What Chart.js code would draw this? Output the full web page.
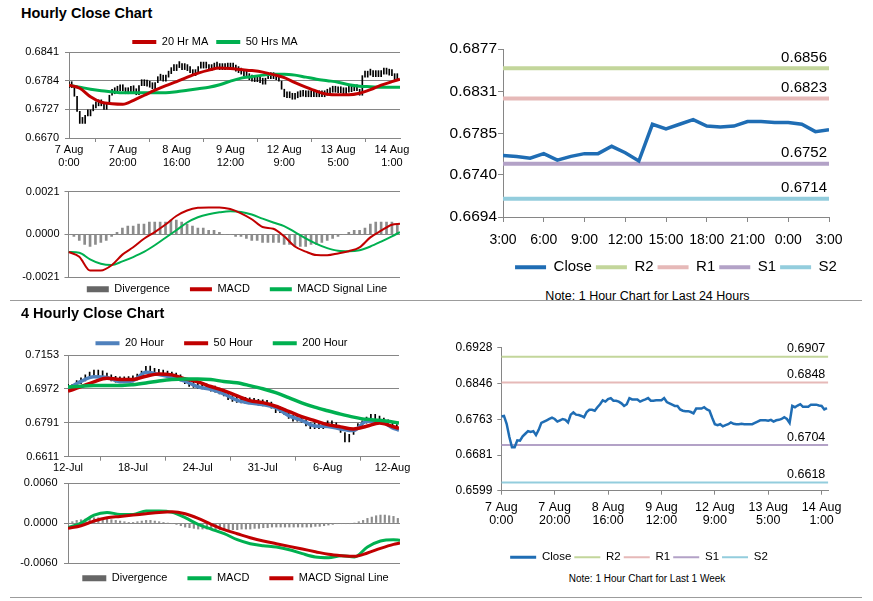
<!DOCTYPE html>
<html>
<head>
<meta charset="utf-8">
<title>Hourly Close Chart</title>
<script src="https://cdn.jsdelivr.net/npm/chart.js@4.4.1/dist/chart.umd.min.js"></script>
<style>
  body { margin: 0; background: #fff; }
  #page { position: relative; width: 873px; height: 601px; overflow: hidden; font-family: "Liberation Sans", Arial, sans-serif; color: #000; }
  #page canvas { position: absolute; }
  .title { position: absolute; left: 21px; font-weight: bold; font-size: 14.5px; line-height: 16px; }
  .rule { position: absolute; left: 10px; width: 852px; height: 0; border-top: 1px solid #9c9c9c; }
  .note { position: absolute; text-align: center; overflow: hidden; white-space: nowrap; }
</style>
</head>
<body>
<div id="page">
  <div class="title" style="top:5px">Hourly Close Chart</div>
  <canvas id="c1" width="420" height="155" style="left:0;top:28px"></canvas>
  <canvas id="c2" width="420" height="120" style="left:0;top:180px"></canvas>
  <canvas id="c3" width="430" height="248" style="left:430px;top:30px"></canvas>
  <div class="note" style="left:540px;top:288.5px;width:215px;height:11.5px;font-size:12.5px;line-height:15px">Note: 1 Hour Chart for Last 24 Hours</div>
  <div class="rule" style="top:300px"></div>

  <div class="title" style="top:305px">4 Hourly Close Chart</div>
  <canvas id="c4" width="420" height="155" style="left:0;top:325px"></canvas>
  <canvas id="c5" width="420" height="123" style="left:0;top:470px"></canvas>
  <canvas id="c6" width="430" height="240" style="left:430px;top:330px"></canvas>
  <div class="note" style="left:547px;top:573px;width:200px;font-size:10px;line-height:12px">Note: 1 Hour Chart for Last 1 Week</div>
  <div class="rule" style="top:597px"></div>
</div>

<script>
// ---- data ----

// 1 hour closes, 7 Aug 0:00 .. 14 Aug (one value per hour)
const weekClose = [
  0.6770, 0.6771, 0.6753, 0.6723, 0.6699, 0.6699, 0.6715, 0.6714, 0.6724, 0.6730,
  0.6736, 0.6734, 0.6736, 0.6727, 0.6739, 0.6755, 0.6758, 0.6761, 0.6764, 0.6767,
  0.6764, 0.6758, 0.6761, 0.6764, 0.6762, 0.6756, 0.6774, 0.6779, 0.6774, 0.6773,
  0.6771, 0.6768, 0.6780, 0.6785, 0.6785, 0.6783, 0.6791, 0.6798, 0.6807, 0.6804,
  0.6810, 0.6812, 0.6806, 0.6806, 0.6804, 0.6800, 0.6794, 0.6798, 0.6812, 0.6809,
  0.6809, 0.6809, 0.6804, 0.6807, 0.6809, 0.6812, 0.6806, 0.6806, 0.6807, 0.6807,
  0.6807, 0.6812, 0.6803, 0.6800, 0.6797, 0.6794, 0.6794, 0.6786, 0.6783, 0.6782,
  0.6782, 0.6780, 0.6777, 0.6788, 0.6788, 0.6788, 0.6791, 0.6786, 0.6783, 0.6767,
  0.6752, 0.6750, 0.6752, 0.6747, 0.6750, 0.6752, 0.6756, 0.6753, 0.6752, 0.6752,
  0.6753, 0.6752, 0.6752, 0.6752, 0.6752, 0.6755, 0.6758, 0.6761, 0.6761, 0.6761,
  0.6760, 0.6762, 0.6758, 0.6761, 0.6762, 0.6764, 0.6768, 0.6764, 0.6755, 0.6794,
  0.6791, 0.6795, 0.6798, 0.6792, 0.6792, 0.6792, 0.6797, 0.6797, 0.6797, 0.6795,
  0.6794, 0.6786, 0.6789
];
const weekTickAt = [0, 20, 40, 60, 80, 100, 120];
const weekTickLabels = [['7 Aug', '0:00'], ['7 Aug', '20:00'], ['8 Aug', '16:00'], ['9 Aug', '12:00'],
  ['12 Aug', '9:00'], ['13 Aug', '5:00'], ['14 Aug', '1:00']];

// moving averages and MACD on the hourly chart, read every 4 hours
const maHours = [0, 4, 8, 12, 16, 20, 24, 28, 32, 36, 40, 44, 48, 52, 56, 60, 64, 68, 72, 76, 80, 84, 88, 92, 96, 100, 104, 108, 112, 116, 120, 123];
const ma20h = [0.6775, 0.6769, 0.6752, 0.6741, 0.6738, 0.6737, 0.6745, 0.6755, 0.6765, 0.6774, 0.6782, 0.6791, 0.6799, 0.6805, 0.6809, 0.6808,
  0.6806, 0.6804, 0.6801, 0.6796, 0.6790, 0.6780, 0.6771, 0.6763, 0.6757, 0.6756, 0.6756, 0.6759, 0.6766, 0.6775, 0.6782, 0.6787];
const ma50h = [0.6775, 0.6771, 0.6767, 0.6764, 0.6762, 0.6760, 0.6760, 0.6760, 0.6760, 0.6760, 0.6762, 0.6765, 0.6768, 0.6771, 0.6776, 0.6783,
  0.6789, 0.6792, 0.6795, 0.6797, 0.6797, 0.6795, 0.6791, 0.6787, 0.6784, 0.6781, 0.6776, 0.6773, 0.6772, 0.6771, 0.6771, 0.6771];
const macdH = [-0.00087, -0.00110, -0.00178, -0.00178, -0.00152, -0.00100, -0.00064, -0.00022, 0.00011, 0.00048, 0.00090, 0.00117, 0.00130, 0.00132, 0.00132, 0.00124,
  0.00103, 0.00074, 0.00036, 0.00027, -0.00010, -0.00060, -0.00085, -0.00102, -0.00103, -0.00094, -0.00083, -0.00064, -0.00015, 0.00018, 0.00047, 0.00052];
const signalH = [-0.00087, -0.00091, -0.00123, -0.00145, -0.00151, -0.00133, -0.00112, -0.00087, -0.00054, -0.00017, 0.00020, 0.00058, 0.00084, 0.00099, 0.00108, 0.00113,
  0.00110, 0.00097, 0.00077, 0.00058, 0.00040, 0.00011, -0.00020, -0.00047, -0.00068, -0.00081, -0.00083, -0.00078, -0.00060, -0.00036, -0.00010, 0.00011];
// divergence, one bar every 2 hours
const divEvery = 2;
const divH = [
  0.0000, -0.0001, -0.0003, -0.0005, -0.0006, -0.0005, -0.0004, -0.0003, -0.0001, 0.0001,
  0.0003, 0.0004, 0.0004, 0.0005, 0.0005, 0.0006, 0.0006, 0.0006, 0.0006, 0.0007,
  0.0007, 0.0006, 0.0005, 0.0004, 0.0003, 0.0003, 0.0002, 0.0002, 0.0001, 0.0000,
  0.0000, -0.0001, -0.0001, -0.0002, -0.0003, -0.0003, -0.0004, -0.0004, -0.0004, -0.0004,
  -0.0005, -0.0005, -0.0006, -0.0006, -0.0006, -0.0005, -0.0005, -0.0004, -0.0003, -0.0002,
  -0.0001, 0.0000, 0.0001, 0.0002, 0.0002, 0.0003, 0.0005, 0.0006, 0.0006, 0.0006,
  0.0006, 0.0005
];

// last 24 hours
const dayClose = [0.6761, 0.6760, 0.6758, 0.6763, 0.6756, 0.6760, 0.6763, 0.6763, 0.6771, 0.6764, 0.6755, 0.6795, 0.6790,
  0.6795, 0.6800, 0.6793, 0.6792, 0.6793, 0.6798, 0.6798, 0.6797, 0.6797, 0.6795, 0.6787, 0.6789];
const dayTickAt = [0, 3, 6, 9, 12, 15, 18, 21, 24];
const dayTickLabels = ['3:00', '6:00', '9:00', '12:00', '15:00', '18:00', '21:00', '0:00', '3:00'];

// pivot levels
const levelNames = ['R2', 'R1', 'S1', 'S2'];
const dayLevels = [0.6856, 0.6823, 0.6752, 0.6714];
const weekLevels = [0.6907, 0.6848, 0.6704, 0.6618];

// 4 hourly chart, 12 Jul .. 13 Aug (bar index), closes read every 2 bars
const fourEvery = 2;
const fourClose = [
  0.6965, 0.6985, 0.7000, 0.7015, 0.7030, 0.7040, 0.7042, 0.7040, 0.7036, 0.7025,
  0.7015, 0.7008, 0.7005, 0.7006, 0.7010, 0.7020, 0.7035, 0.7060, 0.7075, 0.7062,
  0.7050, 0.7045, 0.7040, 0.7035, 0.7030, 0.7025, 0.7015, 0.7000, 0.6985, 0.6980,
  0.6975, 0.6972, 0.6968, 0.6960, 0.6955, 0.6945, 0.6935, 0.6915, 0.6905, 0.6900,
  0.6898, 0.6895, 0.6893, 0.6890, 0.6885, 0.6882, 0.6880, 0.6870, 0.6845, 0.6850,
  0.6835, 0.6815, 0.6800, 0.6800, 0.6795, 0.6775, 0.6760, 0.6765, 0.6760, 0.6770,
  0.6775, 0.6770, 0.6760, 0.6740, 0.6690, 0.6730, 0.6755, 0.6770, 0.6790, 0.6805,
  0.6810, 0.6805, 0.6795, 0.6785, 0.6775, 0.6760, 0.6750
];
const fourDiv = [
  0.0001, 0.0002, 0.0004, 0.0005, 0.0006, 0.0007, 0.0008, 0.0008, 0.0007, 0.0006,
  0.0005, 0.0004, 0.0003, 0.0002, 0.0001, 0.0001, 0.0002, 0.0003, 0.0004, 0.0004,
  0.0003, 0.0002, 0.0001, 0.0000, -0.0001, -0.0002, -0.0004, -0.0006, -0.0007, -0.0008,
  -0.0009, -0.0009, -0.0009, -0.0009, -0.0010, -0.0010, -0.0010, -0.0010, -0.0010, -0.0010,
  -0.0009, -0.0009, -0.0009, -0.0008, -0.0008, -0.0007, -0.0007, -0.0006, -0.0006, -0.0006,
  -0.0006, -0.0006, -0.0006, -0.0006, -0.0006, -0.0006, -0.0006, -0.0005, -0.0005, -0.0004,
  -0.0003, -0.0002, -0.0001, -0.0001, -0.0001, -0.0001, 0.0000, 0.0002, 0.0004, 0.0007,
  0.0009, 0.0011, 0.0012, 0.0012, 0.0011, 0.0010, 0.0007
];
const fourMaAt = [0, 6, 12, 18, 24, 30, 36, 42, 48, 54, 60, 66, 72, 78, 84, 90, 96, 102, 108, 114, 120, 126, 132, 138, 144, 150, 153];
const ma20f = [0.6972, 0.7012, 0.7037, 0.7033, 0.7011, 0.7016, 0.7061, 0.7049, 0.7034, 0.7014, 0.6984, 0.6970, 0.6946, 0.6912,
  0.6897, 0.6889, 0.6873, 0.6830, 0.6805, 0.6775, 0.6772, 0.6759, 0.6750, 0.6800, 0.6801, 0.6765, 0.6752];
const ma50f = [0.6960, 0.6984, 0.7010, 0.7029, 0.7023, 0.7023, 0.7040, 0.7052, 0.7047, 0.7026, 0.7010, 0.6985, 0.6963, 0.6936,
  0.6910, 0.6899, 0.6880, 0.6853, 0.6825, 0.6803, 0.6782, 0.6770, 0.6759, 0.6773, 0.6790, 0.6772, 0.6762];
const ma200f = [0.6983, 0.6987, 0.6990, 0.6990, 0.6990, 0.6995, 0.7004, 0.7015, 0.7023, 0.7025, 0.7025, 0.7022, 0.7012, 0.7005,
  0.6990, 0.6973, 0.6952, 0.6926, 0.6898, 0.6875, 0.6856, 0.6838, 0.6822, 0.6810, 0.6805, 0.6796, 0.6791];
const macdF = [-0.0007, 0.0000, 0.0012, 0.0016, 0.0013, 0.0013, 0.0018, 0.0018, 0.0016, 0.0008, -0.0002, -0.0009, -0.0016, -0.0025,
  -0.0031, -0.0034, -0.0036, -0.0040, -0.0046, -0.0051, -0.0052, -0.0049, -0.0051, -0.0036, -0.0027, -0.0025, -0.0026];
const signalF = [-0.0008, -0.0004, 0.0003, 0.0008, 0.0010, 0.0012, 0.0014, 0.0016, 0.0017, 0.0014, 0.0007, -0.0002, -0.0010, -0.0016,
  -0.0022, -0.0027, -0.0031, -0.0035, -0.0039, -0.0043, -0.0047, -0.0049, -0.0050, -0.0045, -0.0038, -0.0032, -0.0030];
const fourTickAt = [0, 30, 60, 90, 120, 150];
const fourTickLabels = ['12-Jul', '18-Jul', '24-Jul', '31-Jul', '6-Aug', '12-Aug'];

// y axis ticks
const hourPriceTicks = [0.6670, 0.6727, 0.6784, 0.6841];
const hourMacdTicks = [-0.0021, 0, 0.0021];
const dayTicks = [0.6694, 0.6740, 0.6785, 0.6831, 0.6877];
const fourPriceTicks = [0.6611, 0.6791, 0.6972, 0.7153];
const fourMacdTicks = [-0.0060, 0, 0.0060];
const weekTicks = [0.6599, 0.6681, 0.6763, 0.6846, 0.6928];

// ---- styling ----
const FONT = '"Liberation Sans", Arial, sans-serif';
const AXIS = '#868686';
const RED = '#c00000', GREEN = '#00b050', BLUE = '#4f81bd', CLOSE = '#1f6db4', GREY = '#8c8c8c';
const levelColors = ['#c3d69b', '#e6b9b8', '#b3a2c7', '#93cddd'];

Chart.defaults.font.family = FONT;
Chart.defaults.color = '#000';

// lets each chart fix its legend height and nudge the legend box
const legendPos = {
  id: 'legendPos',
  beforeLayout(chart, args, o) {
    const lg = chart.legend;
    if (!lg || lg._fixed) return;
    const fit = lg.fit;
    lg.fit = function () { fit.call(this); this.height = o.h; };
    lg._fixed = true;
  },
  afterLayout(chart, args, o) {
    const lg = chart.legend;
    lg.left += o.dx; lg.right += o.dx;
    lg.top += o.dy;
    lg.bottom += o.dy + 40; // legend clips to its box, keep room under the text
  }
};

// value text above each pivot line
const levelText = {
  id: 'levelText',
  afterDatasetsDraw(chart, args, o) {
    const { ctx, chartArea, scales } = chart;
    ctx.save();
    ctx.font = o.size + 'px ' + FONT;
    ctx.fillStyle = '#000';
    ctx.textAlign = 'right';
    ctx.textBaseline = 'middle';
    chart.data.datasets.forEach(ds => {
      if (ds.level === undefined) return;
      ctx.fillText(ds.level.toFixed(4), chartArea.right + o.dx, scales.y.getPixelForValue(ds.level) - o.dy);
    });
    ctx.restore();
  }
};

function line(label, xs, ys, color, width, legendLine, order, mode) {
  return {
    type: 'line', label, data: xs.map((x, i) => ({ x, y: ys[i] })),
    borderColor: color, backgroundColor: color, borderWidth: width,
    pointRadius: 0, cubicInterpolationMode: mode || 'monotone', fill: false, order, legendLine
  };
}

function level(i, max, width, legendLine, values) {
  return {
    type: 'line', label: levelNames[i], level: values[i],
    data: [{ x: 0, y: values[i] }, { x: max, y: values[i] }],
    borderColor: levelColors[i], backgroundColor: levelColors[i], borderWidth: width,
    pointRadius: 0, fill: false, order: 1, legendLine
  };
}

function yAxis(min, max, ticks, o) {
  return {
    type: 'linear', min, max, bounds: 'data',
    afterBuildTicks: s => { s.ticks = ticks.map(v => ({ value: v })); },
    afterFit: s => { s.width = o.w; },
    grid: { color: AXIS, drawOnChartArea: o.grid, tickLength: o.tl || 4 },
    border: { color: AXIS },
    ticks: { font: { size: o.fs }, padding: o.pad, color: '#000', callback: v => v.toFixed(4) }
  };
}

function xAxis(max, at, labels, o) {
  return {
    type: 'linear', min: 0, max, bounds: 'data', offset: false, display: o.show !== false,
    afterBuildTicks: s => { s.ticks = at.map(v => ({ value: v })); },
    afterFit: s => { s.height = o.h; },
    grid: { color: AXIS, drawOnChartArea: false, tickLength: o.tl || 4 },
    border: { color: AXIS },
    ticks: { autoSkip: false, maxRotation: 0, color: '#000', font: { size: o.fs, lineHeight: o.lh }, padding: o.pad,
      callback: (v, i) => labels[i] }
  };
}

function legend(o) {
  return {
    position: o.pos,
    labels: {
      usePointStyle: true, pointStyleWidth: o.psw, boxHeight: 6, padding: o.p, color: '#000',
      font: { size: o.fs },
      filter: item => !o.skipFirst || item.datasetIndex !== 0,
      sort: (a, b) => a.datasetIndex - b.datasetIndex,
      generateLabels(chart) {
        const items = Chart.defaults.plugins.legend.labels.generateLabels(chart);
        items.forEach(it => {
          const ds = chart.data.datasets[it.datasetIndex];
          const bar = ds.type === 'bar';
          it.pointStyle = bar ? 'rect' : 'line';
          it.lineWidth = bar ? 0 : ds.legendLine;
          it.strokeStyle = ds.borderColor || ds.backgroundColor;
          it.fillStyle = ds.legendFill || ds.backgroundColor;
        });
        return items;
      }
    }
  };
}

function makeChart(id, datasets, o) {
  const plugins = [legendPos];
  const pluginOpts = {
    tooltip: { enabled: false },
    legend: legend(o.legend),
    legendPos: { h: o.legend.h, dx: o.legend.dx, dy: o.legend.dy }
  };
  if (o.levels) { plugins.push(levelText); pluginOpts.levelText = o.levels; }
  return new Chart(document.getElementById(id), {
    type: 'line',
    data: { datasets },
    options: {
      responsive: false, animation: false, events: [],
      layout: { padding: o.pad },
      scales: o.scales,
      plugins: pluginOpts
    },
    plugins
  });
}

// ---- Hourly close, price ----
makeChart('c1', [
  { type: 'bar', label: 'Close', data: weekClose.map((c, i) => ({ x: i, y: [i ? weekClose[i - 1] : c, c] })),
    backgroundColor: '#000', barThickness: 1, minBarLength: 6, order: 3 },
  line('20 Hr MA', maHours, ma20h, RED, 3, 4, 1),
  line('50 Hrs MA', maHours, ma50h, GREEN, 3, 4, 2)
], {
  pad: { left: 0, right: 20, top: 0, bottom: 0 },
  legend: { pos: 'top', fs: 11, p: 8, psw: 24, h: 24, dx: 15, dy: 0.5, skipFirst: true },
  scales: {
    x: xAxis(123, weekTickAt, weekTickLabels, { h: 45, fs: 11, lh: 1.2, pad: 1.4 }),
    y: yAxis(0.6670, 0.6841, hourPriceTicks, { w: 69, fs: 11, pad: 6, grid: true })
  }
});

// ---- Hourly MACD ----
makeChart('c2', [
  { type: 'bar', label: 'Divergence', data: divH.map((v, i) => ({ x: i * divEvery, y: v })),
    backgroundColor: GREY, legendFill: '#666', barThickness: 2, order: 3 },
  line('MACD', maHours, macdH, RED, 2, 4, 1),
  line('MACD Signal Line', maHours, signalH, GREEN, 2, 4, 2)
], {
  pad: { left: 0, right: 20, top: 7.7, bottom: 0 },
  legend: { pos: 'bottom', fs: 11, p: 20, psw: 22, h: 23, dx: 37, dy: -13.2 },
  scales: {
    x: xAxis(123, weekTickAt, weekTickLabels, { show: false, h: 0, fs: 11, pad: 0 }),
    y: yAxis(-0.0021, 0.0021, hourMacdTicks, { w: 68.5, fs: 11, pad: 5, grid: true })
  }
});

// ---- Last 24 hours ----
makeChart('c3', [
  line('Close', dayClose.map((c, i) => i), dayClose, CLOSE, 3.5, 4, 0, 'default'),
  level(0, 24, 4, 4, dayLevels), level(1, 24, 4, 4, dayLevels),
  level(2, 24, 4, 4, dayLevels), level(3, 24, 4, 4, dayLevels)
], {
  pad: { left: 0, right: 31, top: 19, bottom: 0 },
  legend: { pos: 'bottom', fs: 15, p: 4, psw: 31, h: 30, dx: 46.5, dy: 7.8 },
  levels: { size: 15, dx: -2, dy: 10.5 },
  scales: {
    x: xAxis(24, dayTickAt, dayTickLabels, { h: 31, fs: 14, lh: 1.2, pad: 10, tl: 5 }),
    y: yAxis(0.6694, 0.6877, dayTicks, { w: 73, fs: 15.5, pad: 1, tl: 5, grid: false })
  }
});

// ---- 4 hourly close, price ----
makeChart('c4', [
  { type: 'bar', label: 'Close', data: fourClose.map((c, i) => ({ x: i * fourEvery, y: [i ? fourClose[i - 1] : c, c] })),
    backgroundColor: '#000', barThickness: 1, minBarLength: 6, order: 4 },
  line('20 Hour', fourMaAt, ma20f, BLUE, 3.5, 4, 3),
  line('50 Hour', fourMaAt, ma50f, RED, 3.5, 4, 2),
  line('200 Hour', fourMaAt, ma200f, GREEN, 3.5, 4, 1)
], {
  pad: { left: 0, right: 21, top: 0, bottom: 0 },
  legend: { pos: 'top', fs: 11, p: 20, psw: 24, h: 30, dx: 22, dy: -7.2, skipFirst: true },
  scales: {
    x: xAxis(153, fourTickAt, fourTickLabels, { h: 23.3, fs: 11, lh: 1.2, pad: 0.4 }),
    y: yAxis(0.6611, 0.7153, fourPriceTicks, { w: 68, fs: 11, pad: 5, grid: true })
  }
});

// ---- 4 hourly MACD ----
makeChart('c5', [
  { type: 'bar', label: 'Divergence', data: fourDiv.map((v, i) => ({ x: i * fourEvery, y: v })),
    backgroundColor: GREY, legendFill: '#666', barThickness: 1.5, order: 3 },
  line('MACD', fourMaAt, macdF, GREEN, 3, 4, 2),
  line('MACD Signal Line', fourMaAt, signalF, RED, 3, 4, 1)
], {
  pad: { left: 0, right: 20, top: 13, bottom: 0 },
  legend: { pos: 'bottom', fs: 11, p: 20, psw: 24, h: 30, dx: 35.5, dy: -10.2 },
  scales: {
    x: xAxis(153, fourTickAt, fourTickLabels, { show: false, h: 0, fs: 11, pad: 0 }),
    y: yAxis(-0.0060, 0.0060, fourMacdTicks, { w: 68, fs: 11, pad: 6.5, grid: true })
  }
});

// ---- Last week, 1 hour ----
makeChart('c6', [
  line('Close', weekClose.map((c, i) => i), weekClose, CLOSE, 2.5, 3, 0, 'default'),
  level(0, 122.5, 2, 2, weekLevels), level(1, 122.5, 2, 2, weekLevels),
  level(2, 122.5, 2, 2, weekLevels), level(3, 122.5, 2, 2, weekLevels)
], {
  pad: { left: 0, right: 31.7, top: 17.7, bottom: 0 },
  legend: { pos: 'bottom', fs: 11.5, p: 3, psw: 26, h: 20, dx: 9.85, dy: -1.45 },
  levels: { size: 12.5, dx: -3, dy: 8 },
  scales: {
    x: xAxis(122.5, weekTickAt, weekTickLabels, { h: 59.3, fs: 12.5, lh: 1.04, pad: 6.5 }),
    y: yAxis(0.6599, 0.6928, weekTicks, { w: 71.3, fs: 12, pad: 5, grid: false })
  }
});
</script>
</body>
</html>
